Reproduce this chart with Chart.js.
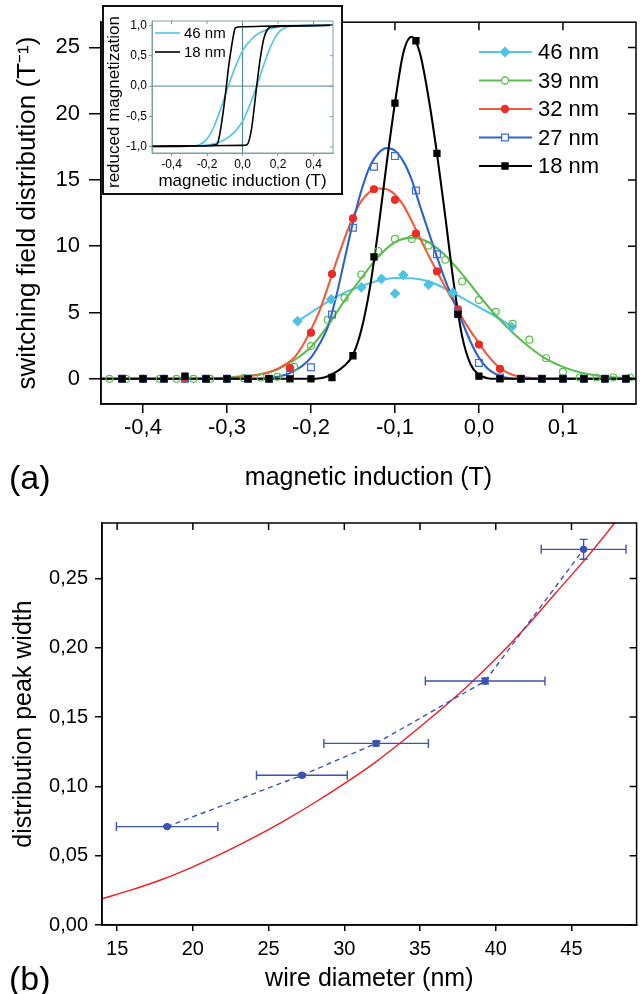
<!DOCTYPE html>
<html>
<head>
<meta charset="utf-8">
<script src="https://cdn.jsdelivr.net/npm/chart.js@4.4.1/dist/chart.umd.min.js"></script>
<style>
  html, body { margin: 0; padding: 0; background: #fff; }
  #page { position: relative; width: 642px; height: 994px; overflow: hidden; font-family: "Liberation Sans", Arial, sans-serif; }
  #cA { position: absolute; left: 0; top: 0; }
  #cB { position: absolute; left: 0; top: 500px; }
  #inset { position: absolute; left: 102px; top: 5px; width: 241px; height: 190px; border: 2px solid #111; box-sizing: border-box; background: #fff; }
  #cI { position: absolute; left: 0; top: 0; }
  .tag { position: absolute; left: 9px; font-size: 34px; line-height: 1; color: #000; }
</style>
</head>
<body>
<div id="page">
  <canvas id="cA" width="642" height="500"></canvas>
  <div id="inset"><canvas id="cI" width="237" height="186"></canvas></div>
  <canvas id="cB" width="642" height="494"></canvas>
  <div class="tag" style="top:460px">(a)</div>
  <div class="tag" style="top:961px">(b)</div>
</div>
<script>
// ---------- panel (a): switching field distributions ----------
const xTicksA = [-0.4, -0.3, -0.2, -0.1, 0.0, 0.1];
const yTicksA = [0, 5, 10, 15, 20, 25];
const sizeLabels = ['46 nm', '39 nm', '32 nm', '27 nm', '18 nm'];

// measured points (T, 1/T)
const field025 = [-0.425, -0.4, -0.375, -0.35, -0.325, -0.3, -0.275, -0.25, -0.225, -0.2, -0.175, -0.15, -0.125,
                  -0.1, -0.075, -0.05, -0.025, 0, 0.025, 0.05, 0.075, 0.1, 0.125, 0.15, 0.175];
const sfd18 = [0, 0, 0, 0.2, 0, 0, 0, 0, 0, 0, 0.1, 1.74, 9.2, 20.8, 25.5, 17.0, 4.86, 0.2, 0, 0, 0, 0, 0, 0, 0];
const sfd27 = [0, 0, 0, 0, 0, 0, 0, 0, 0.3, 0.87, 4.85, 11.4, 16.0, 16.8, 14.2, 9.4, 5.0, 1.2, 0.1, 0, 0, 0, 0, 0, 0];
const sfd32 = [0, 0, 0, 0, 0, 0, 0, 0, 0.8, 3.48, 7.9, 12.1, 14.3, 13.5, 10.96, 8.1, 5.24, 2.58, 0.75, 0, 0, 0, 0, 0, 0];
const field39 = [-0.44, -0.42, -0.40, -0.38, -0.36, -0.34, -0.32, -0.30, -0.28, -0.26, -0.24, -0.22, -0.20, -0.18, -0.16,
                 -0.14, -0.12, -0.10, -0.08, -0.06, -0.04, -0.02, 0, 0.02, 0.04, 0.06, 0.08, 0.10, 0.12, 0.14, 0.16, 0.18];
const sfd39 = [0, 0, 0, 0, 0, 0, 0, 0, 0.05, 0.1, 0.15, 0.9, 2.47, 4.45, 6.1, 7.87, 9.64, 10.55, 10.55, 10.04, 8.98,
               7.34, 5.94, 5.05, 4.15, 2.95, 1.55, 0.53, 0.1, 0.1, 0.1, 0.1];
const field46 = [-0.216, -0.176, -0.140, -0.116, -0.100, -0.090, -0.060, -0.031, 0.039];
const sfd46 = [4.35, 6.0, 6.9, 7.54, 6.43, 7.83, 7.1, 6.5, 3.91];

// fitted curves
const fitB18 = [-0.45, -0.2, -0.18, -0.16, -0.15, -0.14, -0.13, -0.12, -0.11, -0.10, -0.09, -0.08, -0.07, -0.06, -0.05,
                -0.04, -0.03, -0.02, -0.01, 0.0, 0.01, 0.02, 0.19];
const fitS18 = [0, 0, 0.2, 1.0, 1.8, 3.7, 6.8, 11.2, 16.2, 20.8, 24.6, 25.8, 24.5, 21.2, 17.0, 12.2, 7.2, 3.2, 1.1, 0.3,
                0.05, 0, 0];
const fitB27 = [-0.45, -0.27, -0.25, -0.24, -0.23, -0.22, -0.21, -0.20, -0.19, -0.18, -0.17, -0.16, -0.15, -0.14, -0.13,
                -0.12, -0.11, -0.10, -0.09, -0.08, -0.07, -0.06, -0.05, -0.04, -0.03, -0.02, -0.01, 0, 0.01, 0.02,
                0.03, 0.05, 0.19];
const fitS27 = [0, 0, 0.05, 0.15, 0.3, 0.6, 1.0, 1.6, 2.6, 3.9, 6.2, 9.0, 11.8, 14.2, 16.0, 17.0, 17.4, 17.2, 16.4, 15.0,
                13.0, 11.1, 9.2, 7.4, 5.9, 4.3, 2.8, 1.6, 0.8, 0.35, 0.12, 0, 0];
const fitB32 = [-0.45, -0.32, -0.30, -0.28, -0.26, -0.25, -0.24, -0.23, -0.22, -0.21, -0.20, -0.19, -0.18, -0.17, -0.16,
                -0.15, -0.14, -0.13, -0.12, -0.11, -0.10, -0.09, -0.08, -0.07, -0.06, -0.05, -0.04, -0.03, -0.02,
                -0.01, 0, 0.01, 0.02, 0.03, 0.04, 0.05, 0.06, 0.08, 0.19];
const fitS32 = [0, 0, 0.05, 0.15, 0.35, 0.5, 0.75, 1.1, 1.6, 2.5, 3.7, 5.1, 6.9, 8.8, 10.6, 12.2, 13.4, 14.1, 14.35, 14.3,
                13.9, 13.1, 11.9, 10.6, 9.3, 8.1, 6.9, 5.8, 4.6, 3.6, 2.7, 1.8, 1.1, 0.6, 0.3, 0.15, 0.07, 0.02, 0];
const fitB39 = [-0.45, -0.34, -0.32, -0.30, -0.28, -0.26, -0.24, -0.22, -0.20, -0.18, -0.16, -0.14, -0.12, -0.10, -0.08,
                -0.06, -0.04, -0.02, 0, 0.02, 0.04, 0.06, 0.08, 0.10, 0.12, 0.14, 0.16, 0.18, 0.19];
const fitS39 = [0, 0, 0.05, 0.1, 0.2, 0.35, 0.7, 1.4, 2.4, 4.0, 5.9, 7.6, 9.2, 10.3, 10.65, 10.3, 9.3, 7.9, 6.3, 4.8, 3.5,
                2.4, 1.5, 0.9, 0.5, 0.25, 0.12, 0.05, 0.04];
const fitB46 = [-0.216, -0.20, -0.18, -0.16, -0.14, -0.12, -0.10, -0.08, -0.06, -0.04, -0.02, 0.0, 0.02, 0.039];
const fitS46 = [4.35, 5.0, 5.8, 6.5, 7.0, 7.4, 7.6, 7.58, 7.35, 6.8, 6.1, 5.4, 4.7, 3.95];

// ---------- inset: hysteresis loops ----------
const insetXTicks = [-0.4, -0.2, 0.0, 0.2, 0.4];
const insetYTicks = [-1.0, -0.5, 0.0, 0.5, 1.0];
const insetLabels = ['46 nm', '18 nm'];
const loop46DownB = [-0.52, -0.3, -0.24, -0.2, -0.16, -0.12, -0.08, -0.04, 0, 0.05, 0.1, 0.15, 0.2, 0.3, 0.52];
const loop46DownM = [-1.0, -0.99, -0.96, -0.87, -0.66, -0.35, 0.0, 0.32, 0.58, 0.77, 0.88, 0.94, 0.97, 0.99, 1.0];
const loop46UpB = [-0.52, -0.3, -0.2, -0.15, -0.1, -0.05, 0, 0.04, 0.08, 0.12, 0.16, 0.2, 0.24, 0.3, 0.52];
const loop46UpM = [-1.0, -0.99, -0.97, -0.94, -0.88, -0.77, -0.58, -0.32, 0.0, 0.35, 0.66, 0.87, 0.96, 0.99, 1.0];
const loop18DownB = [-0.52, -0.2, -0.145, -0.13, -0.11, -0.09, -0.08, -0.06, -0.05, -0.04, 0, 0.2, 0.52];
const loop18DownM = [-0.99, -0.98, -0.96, -0.82, -0.45, 0.02, 0.28, 0.68, 0.85, 0.96, 0.975, 0.99, 1.0];
const loop18UpB = [-0.52, -0.2, 0, 0.025, 0.05, 0.08, 0.1, 0.12, 0.14, 0.16, 0.3, 0.52];
const loop18UpM = [-0.99, -0.98, -0.975, -0.965, -0.72, 0.0, 0.45, 0.78, 0.93, 0.97, 0.99, 1.0];

// ---------- panel (b): peak width vs wire diameter ----------
const xTicksB = [15, 20, 25, 30, 35, 40, 45];
const yTicksB = [0, 0.05, 0.10, 0.15, 0.20, 0.25];
const diameter = [18.3, 27.2, 32.1, 39.3, 45.8];
const peakWidth = [0.071, 0.108, 0.131, 0.176, 0.271];
const diameterErr = [3.35, 3.0, 3.45, 3.95, 2.8];
const peakWidthErr = [0.0006, 0.0012, 0.0018, 0.002, 0.0072];
const fitDiameter = [14, 16, 18, 20, 22, 24, 26, 28, 30, 32, 34, 36, 38, 40, 42, 44, 46, 48, 50];
const fitWidth = [0.019, 0.0255, 0.033, 0.042, 0.052, 0.063, 0.075, 0.088, 0.102, 0.117, 0.134, 0.152, 0.171, 0.192,
                  0.215, 0.240, 0.265, 0.292, 0.32];

// styles
const FONT = '"Liberation Sans", Arial, sans-serif';
Chart.defaults.font.family = FONT;
Chart.defaults.color = '#000';
const seriesStyle = [
  { color: '#4ec3e4', line: '#55c6e6', pointStyle: 'rectRot', r: 4.5, filled: true },
  { color: '#5bbd4d', line: '#5bbd4d', pointStyle: 'circle', r: 3.5, filled: false },
  { color: '#ec2b24', line: '#f35a3a', pointStyle: 'circle', r: 3.5, filled: true },
  { color: '#3a70d2', line: '#2d63c6', pointStyle: 'rect', r: 4.8, filled: false },
  { color: '#000000', line: '#000000', pointStyle: 'rect', r: 4.3, filled: true }
];
const blueB = '#3b53b3';
const redB = '#ee1c24';
const insetAxis = '#7f9ea5';

const toXY = (xs, ys) => xs.map((v, i) => ({ x: v, y: ys[i] }));
const comma = d => v => Number(v).toFixed(d).replace('.', ',');
const fixTicks = list => s => { s.ticks = list.map(v => ({ value: v })); };

function drawMarker(ctx, m, x, y) {
  ctx.save();
  ctx.lineWidth = 1.3;
  ctx.strokeStyle = m.color;
  ctx.fillStyle = m.filled ? m.color : '#fff';
  ctx.beginPath();
  if (m.pointStyle === 'circle') ctx.arc(x, y, m.r, 0, Math.PI * 2);
  else if (m.pointStyle === 'rect') { const s = m.r * Math.SQRT1_2; ctx.rect(x - s, y - s, 2 * s, 2 * s); }
  else { ctx.moveTo(x, y - m.r); ctx.lineTo(x + m.r, y); ctx.lineTo(x, y + m.r); ctx.lineTo(x - m.r, y); ctx.closePath(); }
  ctx.fill();
  ctx.stroke();
  ctx.restore();
}

// full frame + inward ticks on top and right
const frameTicks = {
  id: 'frameTicks',
  afterDraw(chart, args, o) {
    const { ctx, chartArea: a, scales: { x, y } } = chart;
    ctx.save();
    ctx.strokeStyle = o.color || '#000';
    ctx.lineWidth = o.width || 1.5;
    ctx.strokeRect(a.left, a.top, a.right - a.left, a.bottom - a.top);
    ctx.beginPath();
    x.ticks.forEach(t => { const p = x.getPixelForValue(t.value); ctx.moveTo(p, a.top); ctx.lineTo(p, a.top + o.len); });
    y.ticks.forEach(t => { const p = y.getPixelForValue(t.value); ctx.moveTo(a.right, p); ctx.lineTo(a.right - o.len, p); });
    ctx.stroke();
    ctx.restore();
  }
};

const seriesLegend = {
  id: 'seriesLegend',
  afterDraw(chart) {
    const ctx = chart.ctx;
    ctx.save();
    ctx.font = '22px ' + FONT;
    ctx.textBaseline = 'middle';
    sizeLabels.forEach((lab, i) => {
      const yy = 52 + i * 28.5;
      ctx.strokeStyle = seriesStyle[i].line;
      ctx.lineWidth = 2.2;
      ctx.beginPath(); ctx.moveTo(479, yy); ctx.lineTo(532, yy); ctx.stroke();
      drawMarker(ctx, seriesStyle[i], 505, yy);
      ctx.fillStyle = '#000';
      ctx.fillText(lab, 538, yy + 1);
    });
    ctx.restore();
  }
};

const curve = (xs, ys, st) => ({
  data: toXY(xs, ys), showLine: true, pointRadius: 0, borderColor: st.line, borderWidth: 2.1,
  cubicInterpolationMode: 'monotone', order: 2
});
const marks = (xs, ys, st) => ({
  data: toXY(xs, ys), showLine: false, pointStyle: st.pointStyle, pointRadius: st.r,
  pointBackgroundColor: st.filled ? st.color : 'rgba(255,255,255,0)', pointBorderColor: st.color,
  pointBorderWidth: 1.2, order: 1
});

new Chart(document.getElementById('cA'), {
  type: 'scatter',
  data: {
    datasets: [
      curve(fitB18, fitS18, seriesStyle[4]),
      curve(fitB27, fitS27, seriesStyle[3]),
      curve(fitB32, fitS32, seriesStyle[2]),
      curve(fitB39, fitS39, seriesStyle[1]),
      curve(fitB46, fitS46, seriesStyle[0]),
      marks(field025, sfd18, seriesStyle[4]),
      marks(field025, sfd27, seriesStyle[3]),
      marks(field025, sfd32, seriesStyle[2]),
      marks(field39, sfd39, seriesStyle[1]),
      marks(field46, sfd46, seriesStyle[0])
    ]
  },
  options: {
    responsive: false, animation: false,
    layout: { padding: { top: 7, right: 0, left: 0, bottom: 0 } },
    plugins: { legend: { display: false }, tooltip: { enabled: false }, frameTicks: { len: 8 } },
    scales: {
      x: {
        min: -0.45, max: 0.187,
        afterBuildTicks: fixTicks(xTicksA), afterFit: s => { s.height = 96; },
        ticks: { callback: comma(1), font: { size: 22 }, padding: 2, maxRotation: 0, autoSkip: false },
        grid: { drawOnChartArea: false, tickLength: 9, color: '#000', lineWidth: 1.5 },
        border: { color: '#000', width: 1.5 },
        title: { display: true, text: 'magnetic induction (T)', font: { size: 25 }, padding: { top: 0, bottom: 7 } }
      },
      y: {
        min: -1.9, max: 26.9,
        afterBuildTicks: fixTicks(yTicksA), afterFit: s => { s.width = 101; },
        ticks: { callback: v => String(v), font: { size: 22 }, padding: 9, autoSkip: false },
        grid: { drawOnChartArea: false, tickLength: 12, color: '#000', lineWidth: 1.5 },
        border: { color: '#000', width: 1.5 },
        title: { display: true, text: 'switching field distribution (T\u207B\u00B9)', font: { size: 26 }, padding: { top: 12, bottom: 0 } }
      }
    }
  },
  plugins: [frameTicks, seriesLegend]
});

// inset
const zeroLines = {
  id: 'zeroLines',
  beforeDatasetsDraw(chart) {
    const { ctx, chartArea: a, scales: { x, y } } = chart;
    ctx.save();
    ctx.strokeStyle = '#4f878d';
    ctx.lineWidth = 1;
    ctx.beginPath();
    const px = x.getPixelForValue(0), py = y.getPixelForValue(0);
    ctx.moveTo(px, a.top); ctx.lineTo(px, a.bottom);
    ctx.moveTo(a.left, py); ctx.lineTo(a.right, py);
    ctx.stroke();
    ctx.restore();
  }
};
const insetColors = ['#4fc4e3', '#000000'];
const insetLegend = {
  id: 'insetLegend',
  afterDraw(chart) {
    const ctx = chart.ctx;
    ctx.save();
    ctx.font = '15px ' + FONT;
    ctx.textBaseline = 'middle';
    insetLabels.forEach((lab, i) => {
      const yy = 26 + i * 19;
      ctx.strokeStyle = insetColors[i];
      ctx.lineWidth = 1.6;
      ctx.beginPath(); ctx.moveTo(51, yy); ctx.lineTo(76, yy); ctx.stroke();
      ctx.fillStyle = '#000';
      ctx.fillText(lab, 80, yy + 1);
    });
    // y title, a bit lower than Chart.js would centre it
    ctx.translate(10, 95);
    ctx.rotate(-Math.PI / 2);
    ctx.font = '17px ' + FONT;
    ctx.textAlign = 'center';
    ctx.fillText('reduced magnetization', 0, 0);
    ctx.restore();
  }
};
const loopLine = (xs, ys, c) => ({
  data: toXY(xs, ys), showLine: true, pointRadius: 0, borderColor: c, borderWidth: 1.6,
  cubicInterpolationMode: 'monotone'
});

new Chart(document.getElementById('cI'), {
  type: 'scatter',
  data: {
    datasets: [
      loopLine(loop18DownB, loop18DownM, insetColors[1]),
      loopLine(loop18UpB, loop18UpM, insetColors[1]),
      loopLine(loop46DownB, loop46DownM, insetColors[0]),
      loopLine(loop46UpB, loop46UpM, insetColors[0])
    ]
  },
  options: {
    responsive: false, animation: false,
    layout: { padding: { top: 14, right: 8, left: 0, bottom: 0 } },
    plugins: { legend: { display: false }, tooltip: { enabled: false }, frameTicks: { len: 3, color: insetAxis, width: 1 } },
    scales: {
      x: {
        min: -0.51, max: 0.51,
        afterBuildTicks: fixTicks(insetXTicks), afterFit: s => { s.height = 40; },
        ticks: { callback: comma(1), font: { size: 12 }, padding: 1, maxRotation: 0, autoSkip: false },
        grid: { drawOnChartArea: false, tickLength: 3, color: insetAxis },
        border: { color: insetAxis },
        title: { display: true, text: 'magnetic induction (T)', font: { size: 17 }, padding: { top: 0, bottom: 1 } }
      },
      y: {
        min: -1.1, max: 1.07,
        afterBuildTicks: fixTicks(insetYTicks), afterFit: s => { s.width = 48; },
        ticks: { callback: comma(1), font: { size: 12 }, padding: 2, autoSkip: false },
        grid: { drawOnChartArea: false, tickLength: 3, color: insetAxis },
        border: { color: insetAxis }
      }
    }
  },
  plugins: [zeroLines, frameTicks, insetLegend]
});

// panel (b)
const errorBars = {
  id: 'errorBars',
  afterDatasetsDraw(chart) {
    const { ctx, scales: { x, y } } = chart;
    ctx.save();
    ctx.strokeStyle = blueB;
    ctx.lineWidth = 1.4;
    ctx.beginPath();
    diameter.forEach((d, i) => {
      const px = x.getPixelForValue(d), py = y.getPixelForValue(peakWidth[i]);
      const x0 = x.getPixelForValue(d - diameterErr[i]), x1 = x.getPixelForValue(d + diameterErr[i]);
      const y0 = y.getPixelForValue(peakWidth[i] - peakWidthErr[i]), y1 = y.getPixelForValue(peakWidth[i] + peakWidthErr[i]);
      ctx.moveTo(x0, py); ctx.lineTo(x1, py);
      ctx.moveTo(x0, py - 4.5); ctx.lineTo(x0, py + 4.5);
      ctx.moveTo(x1, py - 4.5); ctx.lineTo(x1, py + 4.5);
      ctx.moveTo(px, y0); ctx.lineTo(px, y1);
      ctx.moveTo(px - 4, y0); ctx.lineTo(px + 4, y0);
      ctx.moveTo(px - 4, y1); ctx.lineTo(px + 4, y1);
    });
    ctx.stroke();
    ctx.restore();
  }
};

new Chart(document.getElementById('cB'), {
  type: 'scatter',
  data: {
    datasets: [
      {
        data: toXY(diameter, peakWidth), showLine: true, borderColor: blueB, borderWidth: 1.4, borderDash: [5, 4],
        pointRadius: 3, pointBackgroundColor: blueB, pointBorderColor: blueB, order: 1
      },
      {
        data: toXY(fitDiameter, fitWidth), showLine: true, borderColor: redB, borderWidth: 1.4, pointRadius: 0,
        cubicInterpolationMode: 'monotone', order: 2
      }
    ]
  },
  options: {
    responsive: false, animation: false,
    layout: { padding: { top: 23, right: 0, left: 0, bottom: 0 } },
    plugins: { legend: { display: false }, tooltip: { enabled: false }, frameTicks: { len: 7 } },
    scales: {
      x: {
        min: 14, max: 49.3,
        afterBuildTicks: fixTicks(xTicksB), afterFit: s => { s.height = 69; },
        ticks: { callback: v => String(v), font: { size: 20 }, padding: 6, maxRotation: 0, autoSkip: false },
        grid: { drawOnChartArea: false, tickLength: 6, color: '#000', lineWidth: 1.5 },
        border: { color: '#000', width: 1.5 },
        title: { display: true, text: 'wire diameter (nm)', font: { size: 25 }, padding: { top: 0, bottom: 0 } }
      },
      y: {
        min: 0, max: 0.29,
        afterBuildTicks: fixTicks(yTicksB), afterFit: s => { s.width = 102; },
        ticks: { callback: comma(2), font: { size: 20 }, padding: 7, autoSkip: false },
        grid: { drawOnChartArea: false, tickLength: 7, color: '#000', lineWidth: 1.5 },
        border: { color: '#000', width: 1.5 },
        title: { display: true, text: 'distribution peak width', font: { size: 25 }, padding: { top: 9, bottom: 0 } }
      }
    }
  },
  plugins: [errorBars, frameTicks]
});
</script>
</body>
</html>
